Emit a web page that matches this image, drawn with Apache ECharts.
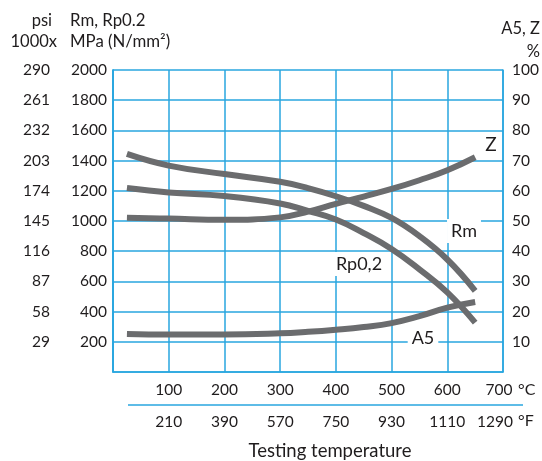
<!DOCTYPE html>
<html>
<head>
<meta charset="utf-8">
<script src="https://cdn.jsdelivr.net/npm/echarts@6/dist/echarts.min.js"></script>
<style>
html,body{margin:0;padding:0;background:#fff;}
#chart{width:542px;height:461px;}
</style>
</head>
<body>
<div id="chart"></div>
<script>
// Testing temperature (°C)
var temps = [25, 100, 200, 300, 350, 400, 450, 500, 550, 600, 650];
// Strength, MPa
var rm   = [1444, 1367, 1311, 1260, 1218, 1164, 1100, 1020, 900, 745, 538];
var rp02 = [1218, 1189, 1165, 1116, 1067, 1010, 920, 815, 680, 527, 327];
// Elongation / reduction of area, %
var zVals  = [51.1, 50.8, 50.4, 51.2, 53.1, 55.7, 58.1, 60.6, 63.5, 66.8, 71.1];
var a5Vals = [12.6, 12.4, 12.4, 12.8, 13.3, 14.0, 14.9, 16.2, 18.5, 21.3, 23.2];
// Tick labels
var cTicks = [100, 200, 300, 400, 500, 600, 700];
var fTicks = ['210', '390', '570', '750', '930', '1110', '1290'];
var mpaTicks = [200, 400, 600, 800, 1000, 1200, 1400, 1600, 1800, 2000];
var psiTicks = ['29', '58', '87', '116', '145', '174', '203', '232', '261', '290'];

function pairs(xs, ys) { return xs.map(function (x, i) { return [x, ys[i]]; }); }

var BLUE = '#29a6df';
var GRAY = '#6b6c6e';
var TXT = '#1f1c1d';
var FONT = 'Lato';
var FS = 15.5;

var chart = echarts.init(document.getElementById('chart'));
var lineStyle = { color: GRAY, width: 6 };
function line(name, data, yIdx) {
  return { name: name, type: 'line', xAxisIndex: 0, yAxisIndex: yIdx, data: data,
    smooth: 0.45, showSymbol: false, symbol: 'none', lineStyle: lineStyle, z: 3, silent: true };
}
function txt(text, x, y, align, size, extra) {
  var s = { text: text, fill: TXT, font: size + 'px ' + FONT, textAlign: align, textVerticalAlign: 'middle' };
  if (extra) { for (var k in extra) s[k] = extra[k]; }
  return { type: 'text', x: x, y: y, z: 10, style: s };
}
chart.setOption({
  animation: false,
  textStyle: { fontFamily: FONT },
  grid: { left: 113, right: 38, top: 70, bottom: 89 },
  xAxis: [
    { type: 'value', min: 0, max: 700, interval: 100, position: 'bottom',
      axisLine: { show: true, lineStyle: { color: BLUE, width: 1.5 } },
      axisTick: { show: false },
      splitLine: { show: true, lineStyle: { color: BLUE, width: 1.5 } },
      axisLabel: { color: TXT, fontSize: FS, fontFamily: FONT, margin: 10,
        rich: { last: { fontSize: FS, fontFamily: FONT, color: TXT, padding: [0, 8, 0, 0] } },
        formatter: function (v) {
          if (cTicks.indexOf(v) < 0) return '';
          return v === 700 ? '{last|' + v + '}' : String(v);
        } } },
    { type: 'value', min: 0, max: 700, interval: 100, position: 'bottom', offset: 32,
      axisLine: { show: false }, axisTick: { show: false }, splitLine: { show: false },
      axisLabel: { color: TXT, fontSize: FS, fontFamily: FONT, margin: 10,
        rich: { last: { fontSize: FS, fontFamily: FONT, color: TXT, padding: [0, 16, 0, 0] } },
        formatter: function (v) {
          var i = cTicks.indexOf(v);
          if (i < 0) return '';
          return i === cTicks.length - 1 ? '{last|' + fTicks[i] + '}' : fTicks[i];
        } } }
  ],
  yAxis: [
    { type: 'value', min: 0, max: 2000, interval: 200, position: 'left',
      axisLine: { show: true, lineStyle: { color: BLUE, width: 1.5 } },
      axisTick: { show: false },
      splitLine: { show: true, lineStyle: { color: BLUE, width: 1.5 } },
      axisLabel: { color: TXT, fontSize: FS, fontFamily: FONT, margin: 6,
        formatter: function (v) { return mpaTicks.indexOf(v) >= 0 ? String(v) : ''; } } },
    { type: 'value', min: 0, max: 2000, interval: 200, position: 'left', offset: 56,
      axisLine: { show: true, lineStyle: { color: BLUE, width: 1.5 } },
      axisTick: { show: false }, splitLine: { show: false },
      axisLabel: { color: TXT, fontSize: FS, fontFamily: FONT, margin: 7,
        formatter: function (v) { var i = mpaTicks.indexOf(v); return i >= 0 ? psiTicks[i] : ''; } } },
    { type: 'value', min: 0, max: 100, interval: 10, position: 'right',
      axisLine: { show: true, lineStyle: { color: BLUE, width: 1.5 } },
      axisTick: { show: false }, splitLine: { show: false },
      axisLabel: { color: TXT, fontSize: FS, fontFamily: FONT, margin: 9,
        formatter: function (v) { return v === 0 ? '' : String(v); } } }
  ],
  series: [
    line('Rm', pairs(temps, rm), 0),
    line('Rp0,2', pairs(temps, rp02), 0),
    line('Z', pairs(temps, zVals), 2),
    line('A5', pairs(temps, a5Vals), 2)
  ],
  graphic: [
    txt('psi', 52, 21, 'right', 16.5),
    txt('1000x', 57, 42, 'right', 16.5),
    txt('Rm, Rp0.2', 70, 21, 'left', 16.8),
    txt('MPa (N/mm²)', 70, 42, 'left', 16.8),
    txt('A5, Z', 540, 29, 'right', 16.5),
    txt('%', 540, 52, 'right', 16.5),
    txt('°C', 518, 390, 'left', 16),
    txt('°F', 518, 421, 'left', 16),
    { type: 'line', shape: { x1: 128, y1: 405, x2: 523, y2: 405 }, style: { stroke: BLUE, lineWidth: 1.5 } },
    txt('Testing temperature', 330, 451, 'center', 18.5),
    txt('Z', 491, 145, 'center', 19),
    txt('Rm', 464, 231, 'center', 18, { backgroundColor: '#fff', padding: [3, 4] }),
    txt('Rp0,2', 359, 264, 'center', 18, { backgroundColor: '#fff', padding: [3, 4] }),
    txt('A5', 423, 338, 'center', 18, { backgroundColor: '#fff', padding: [2, 4] })
  ]
});
</script>
</body>
</html>
